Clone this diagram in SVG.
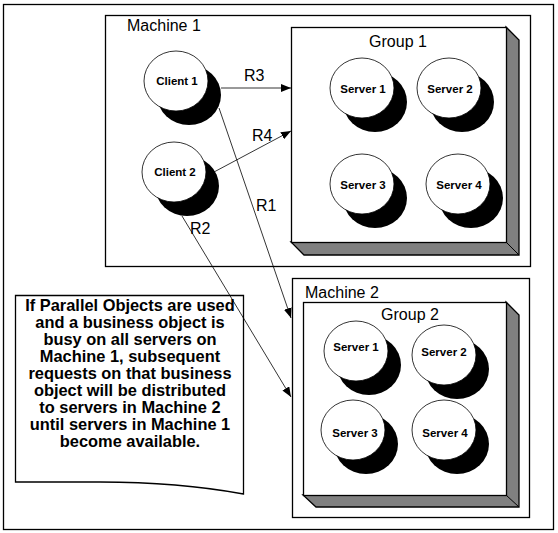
<svg xmlns="http://www.w3.org/2000/svg" width="558" height="533" viewBox="0 0 558 533">
<defs>
<style>
.frame{fill:#fff;stroke:#000;stroke-width:1.3}
.face{fill:#fff;stroke:#000;stroke-width:1.3}
.side{fill:#808080;stroke:#000;stroke-width:1.3;stroke-linejoin:miter}
.shadow{fill:#000}
.disc{fill:#fff;stroke:#000;stroke-width:0.8}
.lbl{font-family:"Liberation Sans",Arial,sans-serif;font-size:11.5px;font-weight:bold;text-anchor:middle;fill:#000}
.title{font-family:"Liberation Sans",Arial,sans-serif;font-size:16px;fill:#000}
.conn{stroke:#000;stroke-width:0.8;fill:none}
.note{font-family:"Liberation Sans",Arial,sans-serif;font-size:16.4px;font-weight:bold;text-anchor:middle;fill:#000}
</style>
<marker id="arr" markerWidth="10" markerHeight="8" refX="10" refY="4" orient="auto" markerUnits="userSpaceOnUse">
<path d="M0,0 L10,4 L0,8 Z" fill="#000"/>
</marker>
</defs>
<rect width="558" height="533" fill="#fff"/>
<rect id="outer" class="frame" x="3.5" y="4.5" width="550" height="525"/>

<g id="machine1">
<rect class="frame" x="105.5" y="15.5" width="425" height="251"/>
<text class="title" x="127" y="31">Machine 1</text>
</g>

<g id="group1">
<polygon class="side" points="506,27 519,40 519,255 304,255 291,242 506,242"/>
<line x1="506" y1="242" x2="519" y2="255" stroke="#000" stroke-width="1"/>
<rect class="face" x="291.5" y="27.5" width="215" height="215"/>
<text class="title" x="398" y="47" text-anchor="middle">Group 1</text>
</g>

<g id="g1-server1"><ellipse class="shadow" cx="375" cy="102" rx="32" ry="30"/><ellipse class="disc" cx="362" cy="88" rx="32" ry="30"/><text class="lbl" x="363" y="93">Server 1</text></g>
<g id="g1-server2"><ellipse class="shadow" cx="462" cy="102" rx="32" ry="30"/><ellipse class="disc" cx="449" cy="88" rx="32" ry="30"/><text class="lbl" x="450" y="93">Server 2</text></g>
<g id="g1-server3"><ellipse class="shadow" cx="375" cy="198" rx="32" ry="30"/><ellipse class="disc" cx="362" cy="184" rx="32" ry="30"/><text class="lbl" x="363" y="189">Server 3</text></g>
<g id="g1-server4"><ellipse class="shadow" cx="471" cy="198" rx="32" ry="30"/><ellipse class="disc" cx="458" cy="184" rx="32" ry="30"/><text class="lbl" x="459" y="189">Server 4</text></g>

<g id="client1"><ellipse class="shadow" cx="189" cy="95" rx="32" ry="30"/><ellipse class="disc" cx="176" cy="81" rx="32" ry="30"/><text class="lbl" x="177" y="85">Client 1</text></g>
<g id="client2"><ellipse class="shadow" cx="187" cy="186" rx="32" ry="30"/><ellipse class="disc" cx="174" cy="172" rx="32" ry="30"/><text class="lbl" x="175" y="176">Client 2</text></g>

<g id="machine2">
<rect class="frame" x="292.5" y="278.5" width="237" height="239"/>
<text class="title" x="305" y="298">Machine 2</text>
</g>

<g id="group2">
<polygon class="side" points="506,302 519,315 519,507 316,507 303,495 506,495"/>
<line x1="506" y1="495" x2="519" y2="507" stroke="#000" stroke-width="1"/>
<rect class="face" x="303.5" y="302.5" width="203" height="193"/>
<text class="title" x="410" y="320" text-anchor="middle">Group 2</text>
</g>

<g id="g2-server1"><ellipse class="shadow" cx="369" cy="365" rx="32" ry="30"/><ellipse class="disc" cx="356" cy="351" rx="32" ry="30"/><text class="lbl" x="356" y="351">Server 1</text></g>
<g id="g2-server2"><ellipse class="shadow" cx="457" cy="369" rx="32" ry="30"/><ellipse class="disc" cx="444" cy="355" rx="32" ry="30"/><text class="lbl" x="444" y="356">Server 2</text></g>
<g id="g2-server3"><ellipse class="shadow" cx="366" cy="444" rx="32" ry="30"/><ellipse class="disc" cx="353" cy="430" rx="32" ry="30"/><text class="lbl" x="355" y="437">Server 3</text></g>
<g id="g2-server4"><ellipse class="shadow" cx="457" cy="444" rx="32" ry="30"/><ellipse class="disc" cx="444" cy="430" rx="32" ry="30"/><text class="lbl" x="445" y="437">Server 4</text></g>

<g id="note">
<path class="frame" d="M15.5,295.5 H243.5 V494 C200,486 150,482 100,482 H15.5 Z"/>
<text class="note" x="130" y="311">If Parallel Objects are used</text>
<text class="note" x="130" y="328">and a business object is</text>
<text class="note" x="130" y="345">busy on all servers on</text>
<text class="note" x="130" y="362">Machine 1, subsequent</text>
<text class="note" x="130" y="379">requests on that business</text>
<text class="note" x="130" y="396">object will be distributed</text>
<text class="note" x="130" y="413">to servers in Machine 2</text>
<text class="note" x="130" y="430">until servers in Machine 1</text>
<text class="note" x="130" y="447">become available.</text>
</g>

<g id="connectors">
<line class="conn" x1="221" y1="88" x2="291" y2="88" marker-end="url(#arr)"/>
<line class="conn" x1="214" y1="172" x2="291" y2="131" marker-end="url(#arr)"/>
<line class="conn" x1="219" y1="108" x2="291" y2="318" marker-end="url(#arr)"/>
<line class="conn" x1="182" y1="216" x2="291" y2="397" marker-end="url(#arr)"/>
<text class="title" x="244" y="81">R3</text>
<text class="title" x="252" y="141">R4</text>
<text class="title" x="256" y="211">R1</text>
<text class="title" x="190" y="234">R2</text>
</g>
</svg>
